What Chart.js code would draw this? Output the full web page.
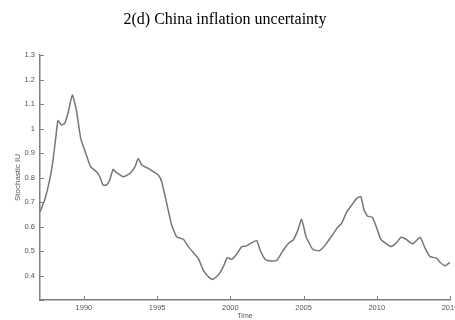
<!DOCTYPE html>
<html>
<head>
<meta charset="utf-8">
<script src="https://cdn.jsdelivr.net/npm/chart.js@4.4.1/dist/chart.umd.min.js"></script>
<style>
  html, body { margin: 0; padding: 0; background: #fff; }
  #wrap { width: 455px; height: 320px; position: relative; }
</style>
</head>
<body>
<div id="wrap"><canvas id="c" width="455" height="320"></canvas></div>
<script>
// Time axis (decimal years) and the stochastic inflation-uncertainty estimate
const years = [
  1987.0, 1987.32, 1987.66, 1987.89, 1988.11, 1988.23, 1988.46, 1988.69, 1988.91, 1989.21,
  1989.48, 1989.78, 1990.05, 1990.46, 1990.85, 1991.08, 1991.3, 1991.53, 1991.76, 1991.99,
  1992.15, 1992.3, 1992.69, 1993.15, 1993.49, 1993.71, 1993.95, 1994.4, 1994.74, 1995.08,
  1995.31, 1995.65, 1995.99, 1996.33, 1996.79, 1997.13, 1997.45, 1997.81, 1998.15, 1998.5,
  1998.79, 1999.18, 1999.52, 1999.79, 2000.09, 2000.44, 2000.78, 2001.07, 2001.39, 2001.8,
  2002.03, 2002.37, 2002.65, 2003.17, 2003.62, 2003.96, 2004.3, 2004.57, 2004.87, 2005.17,
  2005.63, 2006.08, 2006.47, 2006.92, 2007.33, 2007.6, 2007.95, 2008.29, 2008.63, 2008.91,
  2009.13, 2009.36, 2009.7, 2010.0, 2010.27, 2010.61, 2010.96, 2011.3, 2011.66, 2012.0,
  2012.46, 2012.96, 2013.3, 2013.64, 2014.1, 2014.32, 2014.66, 2015.0
];
const stochasticIU = [
  0.66, 0.708, 0.79, 0.871, 0.98, 1.032, 1.014, 1.021, 1.062, 1.137,
  1.076, 0.96, 0.912, 0.844, 0.824, 0.803, 0.769, 0.769, 0.79, 0.833,
  0.824, 0.817, 0.803, 0.817, 0.844, 0.878, 0.851, 0.837, 0.824, 0.81,
  0.783, 0.695, 0.606, 0.558, 0.548, 0.518, 0.495, 0.47, 0.422, 0.395,
  0.384, 0.402, 0.436, 0.473, 0.466, 0.488, 0.518, 0.52, 0.531, 0.542,
  0.504, 0.466, 0.46, 0.462, 0.504, 0.531, 0.545, 0.579, 0.629, 0.558,
  0.507, 0.501, 0.524, 0.561, 0.597, 0.613, 0.66, 0.688, 0.715, 0.722,
  0.667, 0.643, 0.637, 0.593, 0.548, 0.531, 0.518, 0.531, 0.556, 0.548,
  0.529, 0.556, 0.511, 0.477, 0.47, 0.454, 0.44, 0.454
];
const xTickYears = [1990, 1995, 2000, 2005, 2010, 2015];
const yTickValues = [0.3, 0.4, 0.5, 0.6, 0.7, 0.8, 0.9, 1.0, 1.1, 1.2, 1.3];

const AXIS_GREY = '#7f7f7f';
const LABEL_GREY = '#555555';

// Short tick marks pointing into the plot area
const inwardTicks = {
  id: 'inwardTicks',
  afterDraw(chart) {
    const { ctx, chartArea, scales } = chart;
    ctx.save();
    ctx.strokeStyle = AXIS_GREY;
    ctx.lineWidth = 1;
    ctx.beginPath();
    scales.x.ticks.forEach(t => {
      const px = Math.round(scales.x.getPixelForValue(t.value)) + 0.5;
      ctx.moveTo(px, chartArea.bottom);
      ctx.lineTo(px, chartArea.bottom - 4);
    });
    scales.y.ticks.forEach(t => {
      const py = Math.round(scales.y.getPixelForValue(t.value)) + 0.5;
      ctx.moveTo(chartArea.left, py);
      ctx.lineTo(chartArea.left + 4, py);
    });
    ctx.stroke();
    ctx.restore();
  }
};

new Chart(document.getElementById('c'), {
  type: 'line',
  data: {
    datasets: [{
      data: years.map((y, i) => ({ x: y, y: stochasticIU[i] })),
      borderColor: '#767676',
      borderWidth: 1.5,
      pointRadius: 0,
      tension: 0.15,
      fill: false
    }]
  },
  options: {
    responsive: false,
    animation: false,
    devicePixelRatio: 1,
    layout: { padding: { left: 0, right: 5, top: 0, bottom: 0 } },
    plugins: {
      legend: { display: false },
      tooltip: { enabled: false },
      title: {
        display: true,
        text: '2(d) China inflation uncertainty',
        color: '#000',
        font: { family: 'Liberation Serif', size: 16, weight: 'normal' },
        padding: { top: 10, bottom: 25.8 }
      }
    },
    scales: {
      x: {
        type: 'linear',
        min: 1987,
        max: 2015,
        grid: { display: false, drawTicks: false },
        border: { display: true, color: AXIS_GREY, width: 1.5 },
        afterBuildTicks: s => { s.ticks = xTickYears.map(v => ({ value: v })); },
        ticks: {
          color: LABEL_GREY,
          font: { family: 'Liberation Sans', size: 7.5 },
          padding: 3,
          maxRotation: 0,
          autoSkip: false,
          callback: v => String(v)
        },
        title: {
          display: true,
          text: 'Time',
          color: LABEL_GREY,
          font: { family: 'Liberation Sans', size: 7 },
          padding: { top: 0, bottom: 0 }
        },
        afterFit: s => { s.height = 20; s.paddingLeft = 0; s.paddingRight = 0; }
      },
      y: {
        min: 0.3,
        max: 1.3,
        grid: { display: false, drawTicks: false },
        border: { display: true, color: AXIS_GREY, width: 1.5 },
        afterBuildTicks: s => { s.ticks = yTickValues.map(v => ({ value: v })); },
        ticks: {
          color: LABEL_GREY,
          font: { family: 'Liberation Sans', size: 7.5 },
          padding: 5,
          autoSkip: false,
          callback: v => {
            const r = Math.round(v * 10) / 10;
            if (r === 0.3) return '';
            return r === 1 ? '1' : r.toFixed(1);
          }
        },
        title: {
          display: true,
          text: 'Stochastic IU',
          color: LABEL_GREY,
          font: { family: 'Liberation Sans', size: 8 },
          padding: { top: 13, bottom: 0 }
        },
        afterFit: s => { s.width = 40; s.paddingTop = 0; s.paddingBottom = 0; }
      }
    }
  },
  plugins: [inwardTicks]
});
</script>
</body>
</html>
